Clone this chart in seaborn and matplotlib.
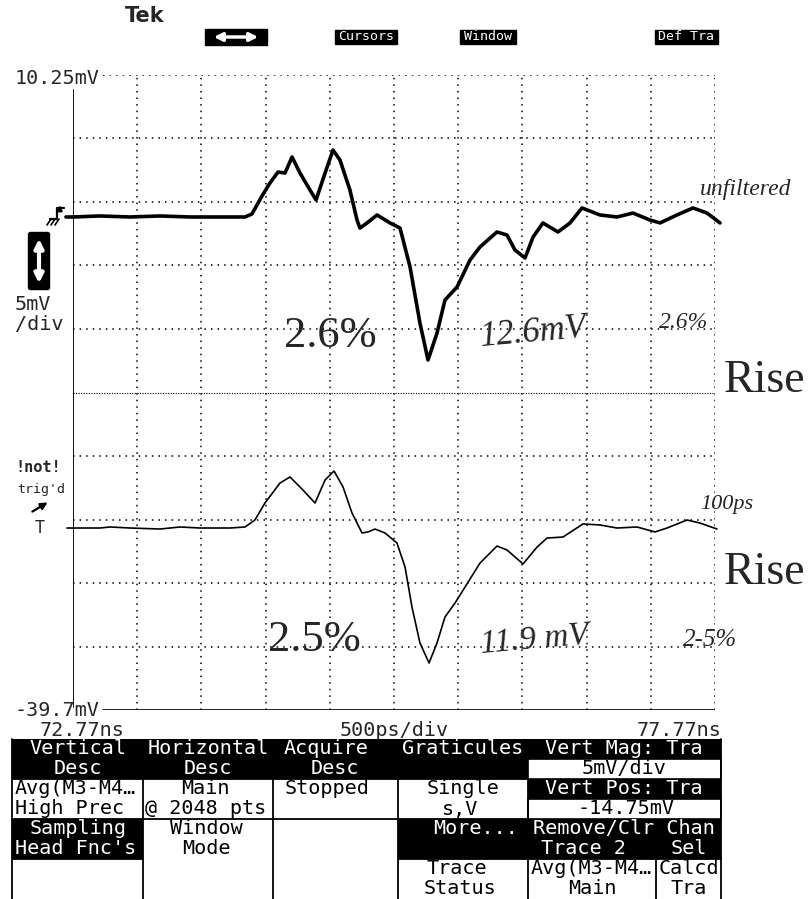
import numpy as np
import pandas as pd
import matplotlib
matplotlib.use("Agg")
import matplotlib.pyplot as plt
import seaborn as sns
from matplotlib.patches import Rectangle, FancyBboxPatch

# ---------------- data (time in ns, amplitude in mV) ----------------
time_unfiltered = [72.715, 72.77, 72.98, 73.214, 73.448, 73.681, 73.915, 74.110, 74.164, 74.242,
                   74.304, 74.367, 74.421, 74.476, 74.538, 74.616, 74.663, 74.733, 74.795, 74.849,
                   74.927, 74.982, 75.005, 75.060, 75.138, 75.239, 75.317, 75.395, 75.472, 75.535,
                   75.605, 75.667, 75.761, 75.862, 75.940, 76.072, 76.150, 76.212, 76.290, 76.353,
                   76.430, 76.547, 76.641, 76.734, 76.874, 77.007, 77.131, 77.264, 77.342, 77.474,
                   77.599, 77.708, 77.809]
mv_unfiltered = [-0.93, -0.93, -0.85, -0.93, -0.85, -0.93, -0.93, -0.93, -0.69, 0.72,
                 1.75, 2.61, 2.53, 3.79, 2.53, 1.19, 0.41, 2.53, 4.34, 3.56,
                 1.19, -1.17, -1.80, -1.40, -0.77, -1.40, -1.80, -4.87, -9.28, -12.19,
                 -10.07, -7.47, -6.44, -4.32, -3.29, -2.11, -2.35, -3.53, -4.16, -2.51,
                 -1.40, -2.11, -1.40, -0.22, -0.77, -0.93, -0.62, -1.17, -1.40, -0.77,
                 -0.22, -0.62, -1.40]

time_filtered = [72.723, 72.980, 73.058, 73.214, 73.448, 73.603, 73.759, 73.993, 74.110, 74.187,
                 74.265, 74.382, 74.460, 74.561, 74.655, 74.733, 74.803, 74.873, 74.943, 75.021,
                 75.068, 75.122, 75.200, 75.293, 75.356, 75.410, 75.472, 75.543, 75.605, 75.667,
                 75.745, 75.823, 75.940, 76.072, 76.150, 76.275, 76.384, 76.462, 76.586, 76.742,
                 76.874, 77.007, 77.163, 77.303, 77.396, 77.552, 77.653, 77.786]
mv_filtered = [-25.42, -25.42, -25.34, -25.42, -25.50, -25.34, -25.42, -25.42, -25.34, -24.79,
               -23.45, -21.88, -21.40, -22.43, -23.45, -21.64, -20.93, -22.19, -24.24, -25.81,
               -25.73, -25.50, -25.81, -26.60, -28.49, -31.64, -34.47, -36.05, -34.47, -32.43,
               -31.33, -30.07, -28.18, -26.84, -27.15, -28.25, -26.92, -26.21, -26.13, -25.10,
               -25.18, -25.42, -25.34, -25.73, -25.42, -24.79, -25.03, -25.50]

x_range = [72.77, 77.77]          # ns
y_range = [-39.75, 10.25]         # mV
n_div = 10
x_labels = ["72.77ns", "500ps/div", "77.77ns"]
y_labels = ["10.25mV", "-39.7mV"]
scale_labels = ["5mV", "/div"]
typed_notes = ["2.6%", "2.5%", "Rise", "Rise"]
hand_notes = ["unfiltered", "12.6mV", "2.6%", "100ps", "11.9 mV", "2-5%"]
menu_buttons = ["Cursors", "Window", "Def Tra"]

# ---------------- figure ----------------
sns.set_style("white")
plt.rcParams["font.family"] = ["DejaVu Sans Mono", "DejaVu Sans"]

W, H = 808, 899
fig = plt.figure(figsize=(W / 100, H / 100), dpi=100)
fig.patch.set_facecolor("white")

ax = fig.add_axes([73 / W, 1 - 710 / H, 642 / W, 635 / H])
ax.set_xlim(*x_range)
ax.set_ylim(*y_range)
ax.set_axis_off()

xs = np.linspace(x_range[0], x_range[1], n_div + 1)
ys = np.linspace(y_range[0], y_range[1], n_div + 1)
dot = (0, (1, 3.3))
for i, x in enumerate(xs):
    if i == 0:
        ax.axvline(x, ymin=0.005, ymax=0.976, color="black", lw=1.3)
    else:
        ax.axvline(x, color="black", lw=1.1, ls=dot)
x_start = (103 - 73) / 642
for i, y in enumerate(ys):
    if i == 0:
        ax.axhline(y, xmin=x_start, xmax=1, color="black", lw=1.2)
    elif i == n_div // 2:
        ax.axhline(y, xmin=0, xmax=1, color="black", lw=0.8, ls=(0, (1, 1.3)))
    elif i == n_div:
        ax.axhline(y, xmin=x_start, xmax=1, color="black", lw=1.1, ls=dot)
    else:
        ax.axhline(y, color="black", lw=1.1, ls=dot)

df_u = pd.DataFrame({"t": time_unfiltered, "mV": mv_unfiltered})
df_f = pd.DataFrame({"t": time_filtered, "mV": mv_filtered})
sns.lineplot(data=df_u, x="t", y="mV", ax=ax, color="black", lw=2.6,
             sort=False, estimator=None, legend=False)
sns.lineplot(data=df_f, x="t", y="mV", ax=ax, color="black", lw=1.2,
             sort=False, estimator=None, legend=False)
for ln in ax.lines[-2:]:
    ln.set_clip_on(False)
    ln.set_solid_joinstyle("round")
ax.set_axis_off()

# ---------------- overlay in pixel coordinates ----------------
ov = fig.add_axes([0, 0, 1, 1], zorder=5)
ov.set_xlim(0, W)
ov.set_ylim(H, 0)
ov.set_axis_off()
ov.patch.set_alpha(0)

mono = "DejaVu Sans Mono"
FS = 14.5

# header
ov.text(145, 16, "Tek", fontsize=15, fontweight="bold", family="DejaVu Sans",
        ha="center", va="center")
ov.add_patch(Rectangle((205, 29), 62, 16, color="black"))
ov.annotate("", xy=(211, 37), xytext=(261, 37),
            arrowprops=dict(arrowstyle="<|-|>", color="white", lw=2.5, mutation_scale=12))
for (x0, x1), lab in zip([(335, 397), (460, 516), (655, 718)], menu_buttons):
    ov.add_patch(Rectangle((x0, 30), x1 - x0, 14, color="black"))
    ov.text((x0 + x1) / 2, 37, lab, color="white", fontsize=9.5, family=mono,
            ha="center", va="center")

# scale labels
ov.text(15, 79, y_labels[0], fontsize=FS, family=mono, ha="left", va="center")
ov.text(15, 710, y_labels[1], fontsize=FS, family=mono, ha="left", va="center")
ov.text(40, 731, x_labels[0], fontsize=FS, family=mono, ha="left", va="center")
ov.text(394, 731, x_labels[1], fontsize=FS, family=mono, ha="center", va="center")
ov.text(721, 731, x_labels[2], fontsize=FS, family=mono, ha="right", va="center")

# left-side indicators
ov.add_patch(FancyBboxPatch((29, 233), 20, 56, boxstyle="round,pad=0.5,rounding_size=2",
                            color="black"))
ov.annotate("", xy=(39, 236), xytext=(39, 286),
            arrowprops=dict(arrowstyle="<|-|>", color="white", lw=3, mutation_scale=13))
ov.text(15, 304, scale_labels[0], fontsize=FS, family=mono, ha="left", va="center")
ov.text(15, 325, scale_labels[1], fontsize=FS, family=mono, ha="left", va="center")

# ground / trigger symbol for trace 1
ov.plot([50, 57, 57, 64], [219, 219, 208, 208], color="black", lw=1.6)
ov.annotate("", xy=(60, 203), xytext=(60, 211),
            arrowprops=dict(arrowstyle="-|>", color="black", lw=1.2, mutation_scale=7))
for k in range(3):
    ov.plot([47 + 4 * k, 51 + 4 * k], [225, 219], color="black", lw=1.2)

ov.text(15, 468, "!not!", fontsize=11, fontweight="bold", family=mono, ha="left", va="center")
ov.text(17, 489, "trig'd", fontsize=9.5, family=mono, ha="left", va="center")
ov.annotate("", xy=(50, 501), xytext=(30, 513),
            arrowprops=dict(arrowstyle="-|>", color="black", lw=1.6, mutation_scale=10))
ov.text(40, 528, "T", fontsize=12, family=mono, ha="center", va="center")

# typed annotations (Times-like)
serif = "Liberation Serif"
ov.text(330, 336, typed_notes[0], fontsize=32, family=serif, ha="center", va="center")
ov.text(314, 640, typed_notes[1], fontsize=32, family=serif, ha="center", va="center")
ov.text(724, 392, typed_notes[2], fontsize=33, family=serif, ha="left", va="baseline")
ov.text(724, 584, typed_notes[3], fontsize=33, family=serif, ha="left", va="baseline")

# handwritten annotations
hand = dict(family=serif, style="italic", ha="center", va="center")
ov.text(746, 190, hand_notes[0], fontsize=17, **hand)
ov.text(533, 333, hand_notes[1], fontsize=25, rotation=5, **hand)
ov.text(684, 323, hand_notes[2], fontsize=17, **hand)
ov.text(727, 504, hand_notes[3], fontsize=16, **hand)
ov.text(535, 640, hand_notes[4], fontsize=24, rotation=5, **hand)
ov.text(710, 640, hand_notes[5], fontsize=18, **hand)

# ---------------- bottom menu table ----------------
split = 656
L = [749, 769, 789, 809, 829, 849, 869, 889]

blacks = [(12, 739, 528, 779), (528, 739, 721, 759), (528, 779, 721, 799),
          (12, 819, 143, 859), (398, 819, 721, 859)]
for x0, y0, x1, y1 in blacks:
    ov.add_patch(Rectangle((x0, y0), x1 - x0, y1 - y0, color="black", lw=0))
for y0 in (759, 799):
    ov.add_patch(Rectangle((528, y0), 193, 20, facecolor="white", edgecolor="black", lw=1.2))

vlines = [(12, 739, 899), (143, 779, 899), (273, 779, 899), (398, 779, 899),
          (528, 779, 899), (split, 859, 899), (721, 739, 899)]
for x, y0, y1 in vlines:
    ov.plot([x, x], [y0, y1], color="black", lw=1.3)
hlines = [(12, 528, 779), (12, 528, 819), (12, 143, 859), (398, 721, 859)]
for x0, x1, y in hlines:
    ov.plot([x0, x1], [y, y], color="black", lw=1.3)

cells = [
    ("Vertical", 78, 0, "center", "white"), ("Desc", 78, 1, "center", "white"),
    ("Horizontal", 208, 0, "center", "white"), ("Desc", 208, 1, "center", "white"),
    ("Acquire", 326, 0, "center", "white"), ("Desc", 335, 1, "center", "white"),
    ("Graticules", 463, 0, "center", "white"),
    ("Vert Mag: Tra", 624, 0, "center", "white"), ("5mV/div", 624, 1, "center", "black"),
    ("Avg(M3-M4\u2026", 15, 2, "left", "black"), ("High Prec", 15, 3, "left", "black"),
    ("Main", 205, 2, "center", "black"), ("@ 2048 pts", 145, 3, "left", "black"),
    ("Stopped", 327, 2, "center", "black"),
    ("Single", 463, 2, "center", "black"), ("s,V", 460, 3, "center", "black"),
    ("Vert Pos: Tra", 624, 2, "center", "white"), ("-14.75mV", 626, 3, "center", "black"),
    ("Sampling", 78, 4, "center", "white"), ("Head Fnc's", 15, 5, "left", "white"),
    ("Window", 206, 4, "center", "black"), ("Mode", 206, 5, "center", "black"),
    ("More...", 476, 4, "center", "white"),
    ("Remove/Clr Chan", 624, 4, "center", "white"),
    ("Trace 2", 541, 5, "left", "white"), ("Sel", 689, 5, "center", "white"),
    ("Trace", 457, 6, "center", "black"), ("Status", 460, 7, "center", "black"),
    ("Avg(M3-M4\u2026", 531, 6, "left", "black"), ("Main", 592, 7, "center", "black"),
    ("Calcd", 689, 6, "center", "black"), ("Tra", 689, 7, "center", "black"),
]
for s, x, row, ha, col in cells:
    ov.text(x, L[row], s, fontsize=FS, family=mono, color=col, ha=ha, va="center")

fig.savefig("out.png", dpi=100, facecolor="white")
